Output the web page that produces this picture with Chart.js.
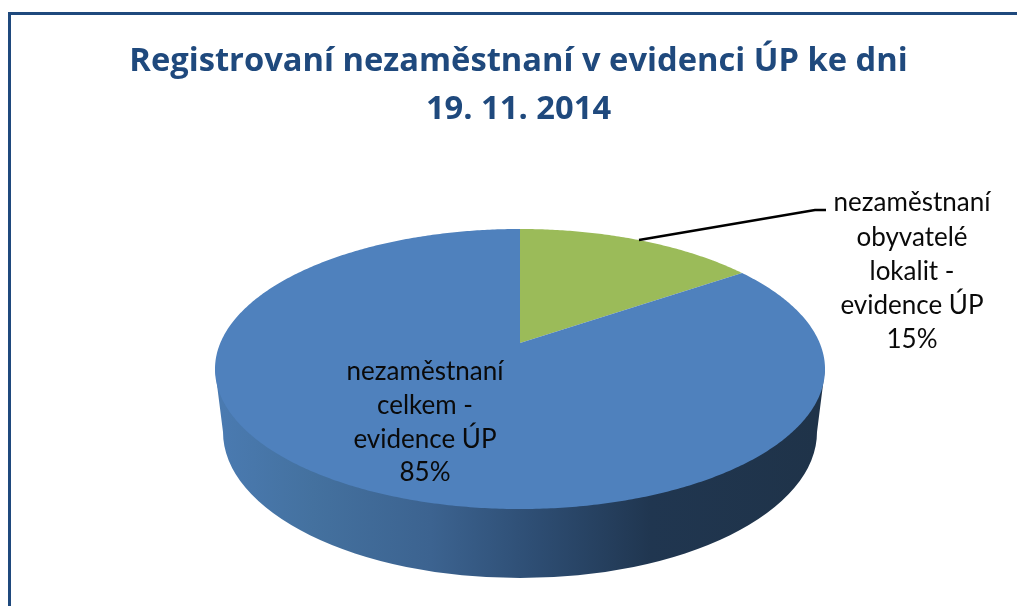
<!DOCTYPE html>
<html><head><meta charset="utf-8">
<style>html,body{margin:0;padding:0;background:#fff}canvas{display:block}</style>
<script src="https://cdn.jsdelivr.net/npm/chart.js@4/dist/chart.umd.min.js"></script>
</head><body>
<canvas id="c" width="1017" height="606"></canvas>
<script>
const titleLines = ['Registrovaní nezaměstnaní v evidenci ÚP ke dni', '19. 11. 2014'];
const categories = ['nezaměstnaní obyvatelé lokalit - evidence ÚP', 'nezaměstnaní celkem - evidence ÚP'];
const labelLines = [['nezaměstnaní', 'obyvatelé', 'lokalit -', 'evidence ÚP'], ['nezaměstnaní', 'celkem -', 'evidence ÚP']];
const values = [15.3, 84.7];
const colors = ['#9BBB59', '#4F81BD'];

// Perspective projection of the pie disc onto the page
const P = {cx: 520, apexY: 343, a: 299.7, b: 135.2, k: -0.1857};
const project = (ang) => {
  const u = Math.cos(ang), v = Math.sin(ang), w = 1 + P.k * v;
  return [P.cx + P.a * u / w, P.apexY + P.b * v / w];
};
function perspectiveArcDraw(ctx) {
  const o = this.getProps(['startAngle', 'endAngle']);
  ctx.save();
  ctx.beginPath();
  ctx.moveTo(P.cx, P.apexY);
  const n = Math.max(8, Math.ceil((o.endAngle - o.startAngle) / 0.01));
  for (let i = 0; i <= n; i++) {
    const p = project(o.startAngle + (o.endAngle - o.startAngle) * i / n);
    ctx.lineTo(p[0], p[1]);
  }
  ctx.closePath();
  ctx.fillStyle = this.options.backgroundColor;
  ctx.fill();
  ctx.restore();
}
const scene = {
  id: 'scene',
  beforeDraw(chart) {
    const ctx = chart.ctx;
    ctx.save();
    ctx.fillStyle = '#fff';
    ctx.fillRect(0, 0, chart.width, chart.height);
    ctx.strokeStyle = '#1F497D';
    ctx.lineWidth = 3;
    ctx.beginPath();
    ctx.moveTo(9.5, chart.height);
    ctx.lineTo(9.5, 13.5);
    ctx.lineTo(chart.width, 13.5);
    ctx.stroke();
    ctx.restore();
  },
  beforeDatasetsDraw(chart) {
    const ctx = chart.ctx;
    const wx = 297, wy = 432, wr = 146;
    const g = ctx.createLinearGradient(P.cx - wx, 0, P.cx + wx, 0);
    g.addColorStop(0, '#4A7AB0');
    g.addColorStop(0.15, '#44719F');
    g.addColorStop(0.35, '#3C6390');
    g.addColorStop(0.52, '#2E4E74');
    g.addColorStop(0.72, '#203650');
    g.addColorStop(1, '#1F3349');
    ctx.save();
    ctx.beginPath();
    ctx.moveTo(P.cx - 305, 369);
    ctx.lineTo(P.cx - wx, wy);
    ctx.ellipse(P.cx, wy, wx, wr, 0, Math.PI, 0, true);
    ctx.lineTo(P.cx + 305, 369);
    ctx.closePath();
    ctx.fillStyle = g;
    ctx.fill();
    ctx.restore();
  },
  beforeDatasetDraw(chart, args) {
    args.meta.data.forEach(el => { el.draw = perspectiveArcDraw; });
  },
  afterDatasetsDraw(chart) {
    const ctx = chart.ctx;
    const total = values.reduce((s, v) => s + v, 0);
    ctx.save();
    ctx.strokeStyle = '#000';
    ctx.lineWidth = 2.5;
    ctx.beginPath();
    ctx.moveTo(639, 240);
    ctx.lineTo(815, 210);
    ctx.lineTo(826, 210);
    ctx.stroke();
    ctx.font = '26px Lato';
    ctx.fillStyle = '#0a0a0a';
    ctx.textAlign = 'center';
    ctx.textBaseline = 'middle';
    const spots = [{x: 912, y: 203, dy: 34.2}, {x: 425, y: 372, dy: 33.7}];
    values.forEach((v, i) => {
      const lines = labelLines[i].concat([Math.round(v / total * 100) + '%']);
      lines.forEach((t, j) => ctx.fillText(t, spots[i].x, spots[i].y + j * spots[i].dy));
    });
    ctx.restore();
  }
};
new Chart(document.getElementById('c'), {
  type: 'pie',
  data: {labels: categories, datasets: [{data: values, backgroundColor: colors, borderWidth: 0}]},
  options: {
    responsive: false,
    animation: false,
    layout: {padding: {left: 20, top: 37}},
    plugins: {
      legend: {display: false},
      tooltip: {enabled: false},
      title: {
        display: true,
        text: titleLines,
        color: '#1F497D',
        font: {family: '"Open Sans"', size: 32.7, weight: 'bold', lineHeight: 1.48},
        padding: 0
      }
    }
  },
  plugins: [scene]
});
</script>
</body></html>
